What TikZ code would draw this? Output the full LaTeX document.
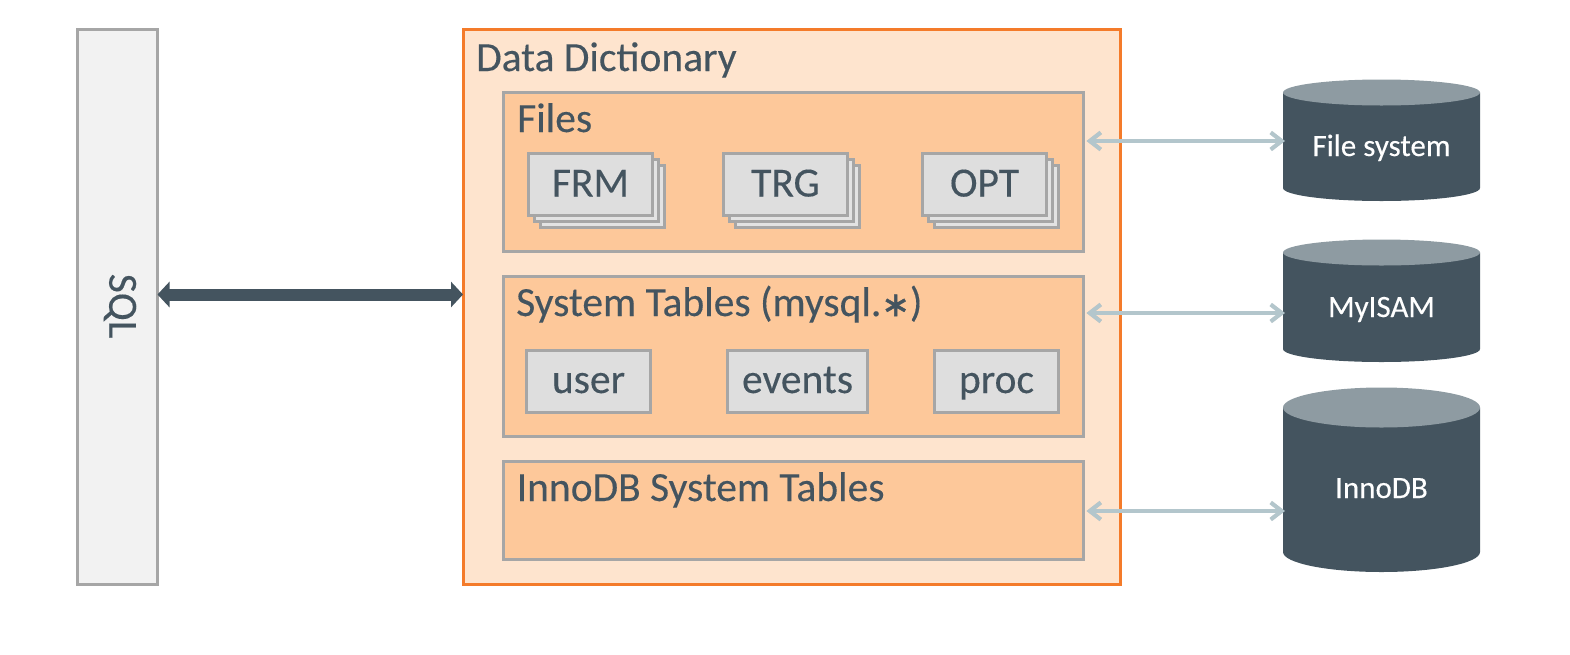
\documentclass[tikz,border=0pt]{standalone}
\usepackage{fontspec}
\setmainfont[FakeBold=0.25]{Carlito}
\newfontfamily\symfont[FakeBold=1.5]{DejaVu Sans}
\usetikzlibrary{arrows.meta}
\definecolor{slate}{HTML}{44545F}
\definecolor{slatetop}{HTML}{8E9BA2}
\definecolor{boxline}{HTML}{A6A6A6}
\definecolor{orangeline}{HTML}{F47B2A}
\definecolor{outerfill}{HTML}{FEE4CE}
\definecolor{innerfill}{HTML}{FDC89A}
\definecolor{cardfill}{HTML}{DEDEDE}
\definecolor{sqlfill}{HTML}{F2F2F2}
\definecolor{linkcol}{HTML}{B3C6CC}
\newcommand{\bigfont}{\fontsize{41.5}{44}\selectfont}
\newcommand{\midfont}{\fontsize{31}{34}\selectfont}
\tikzset{
  x=1pt,y=-1pt,
  boxbase/.style={inner sep=0pt,outer sep=0pt,anchor=north west,line width=3pt},
  sqlbox/.style={boxbase,draw=boxline,fill=sqlfill,minimum width=80pt,minimum height=555pt},
  outerbox/.style={boxbase,draw=orangeline,fill=outerfill,minimum width=657pt,minimum height=555pt},
  groupbox/.style={boxbase,draw=boxline,fill=innerfill,minimum width=580pt},
  card/.style={boxbase,draw=boxline,fill=cardfill,minimum height=62pt,text=slate,font=\bigfont,text height=30pt,text depth=6pt},
  backcard/.style={boxbase,draw=boxline,fill=cardfill!85!white,minimum height=62pt,minimum width=124pt},
  heading/.style={anchor=base west,inner sep=0pt,text=slate,font=\bigfont},
  dbtext/.style={anchor=base,inner sep=0pt,text=white,font=\midfont},
  dbanchor/.style={inner sep=0pt,outer sep=0pt,minimum width=197pt,anchor=north west},
  thicklink/.style={draw=slate,line width=12pt,{Triangle[length=12pt,width=25pt]}-{Triangle[length=12pt,width=25pt]}},
  thinlink/.style={draw=linkcol,line width=4pt,{Straight Barb[length=11pt,width=17pt,line width=4pt]}-{Straight Barb[length=11pt,width=17pt,line width=4pt]},shorten <=3pt,shorten >=-2pt},
  linkshade/.style={thinlink,draw=black,opacity=0.12,yshift=-2pt},
}
\newcommand{\dbshape}[4]{% x, top, bottom, ry
  \fill[slate] (#1,#3-#4) arc[x radius=98.5,y radius=#4,start angle=180,end angle=0] -- (#1+197,#2+#4) -- (#1,#2+#4) -- cycle;
  \fill[slatetop] (#1+98.5,#2+#4) ellipse[x radius=98.5,y radius=#4];
}
\begin{document}
\begin{tikzpicture}
\useasboundingbox (0,0) rectangle (1570,654);
% SQL
\node[sqlbox] (sql) at (77.5,29.5) {};
\node[inner sep=0pt,text=slate,font=\bigfont,rotate=-90] (sqllabel) at (120,306) {SQL};
% Data dictionary
\node[outerbox] (dict) at (463,29.5) {};
\node[heading] (dicttitle) at (476,71) {Data Dictionary};
\node[groupbox,minimum height=159pt] (files) at (503.5,92.5) {};
\node[heading] (filestitle) at (517,132) {Files};
\node[groupbox,minimum height=160pt] (systab) at (503.5,276.5) {};
\node[heading] (systitle) at (516,316) {System Tables (mysql.{\symfont\fontsize{34}{36}\selectfont ∗})};
\node[groupbox,minimum height=98pt] (inno) at (503.5,461.5) {};
\node[heading] (innotitle) at (516.5,501) {InnoDB System Tables};
% file stacks
\node[backcard] (frmc) at (540.5,165.5) {};
\node[backcard] (frmb) at (534.5,159.5) {};
\node[card,minimum width=124pt] (frm) at (528.5,153.5) {FRM};
\node[backcard] (trgc) at (735.5,165.5) {};
\node[backcard] (trgb) at (729.5,159.5) {};
\node[card,minimum width=124pt] (trg) at (723.5,153.5) {TRG};
\node[backcard] (optc) at (934.5,165.5) {};
\node[backcard] (optb) at (928.5,159.5) {};
\node[card,minimum width=124pt] (opt) at (922.5,153.5) {OPT};
% tables
\node[card,minimum width=124pt] (user) at (526.5,350) {user};
\node[card,minimum width=140pt] (events) at (727.5,350) {events};
\node[card,minimum width=124pt] (proc) at (934.5,350) {proc};
% databases
\dbshape{1283}{79.5}{201}{13}
\node[dbanchor,minimum height=121pt] (fs) at (1283,79.5) {};
\node[dbtext] (fstext) at (1381.5,156) {File system};
\dbshape{1283}{239.5}{362}{13}
\node[dbanchor,minimum height=122pt] (myisam) at (1283,239.5) {};
\node[dbtext] (mytext) at (1381.5,317) {MyISAM};
\dbshape{1283}{387.5}{572}{20}
\node[dbanchor,minimum height=184pt] (innodb) at (1283,387.5) {};
\node[dbtext] (idbtext) at (1381.5,498) {InnoDB};
% connectors
\coordinate (sqlr) at (sql.east |- 0,294.5);
\coordinate (dictl) at (dict.west |- 0,294.5);
\draw[thicklink] (sqlr) -- (dictl);
\coordinate (fsl) at (fs.west |- 0,141);
\coordinate (filesr) at (files.east |- 0,141);
\draw[linkshade] (filesr) -- (fsl);
\draw[thinlink] (filesr) -- (fsl);
\coordinate (myl) at (myisam.west |- 0,313);
\coordinate (sysr) at (systab.east |- 0,313);
\draw[linkshade] (sysr) -- (myl);
\draw[thinlink] (sysr) -- (myl);
\coordinate (idbl) at (innodb.west |- 0,511);
\coordinate (innor) at (inno.east |- 0,511);
\draw[linkshade] (innor) -- (idbl);
\draw[thinlink] (innor) -- (idbl);
\end{tikzpicture}
\end{document}
